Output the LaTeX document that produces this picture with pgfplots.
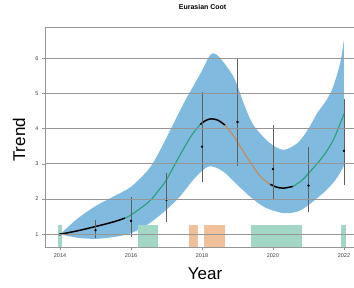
\documentclass[border=0pt]{standalone}
\usepackage{fontspec}
\setmainfont{Liberation Sans}
\usepackage{pgfplots}
\pgfplotsset{compat=1.18}
\usepgfplotslibrary{fillbetween}
\definecolor{bandblue}{RGB}{128,186,222}
\definecolor{trendgreen}{RGB}{40,160,120}
\definecolor{trendorange}{RGB}{205,135,80}
\definecolor{rectgreen}{RGB}{162,215,198}
\definecolor{rectorange}{RGB}{240,192,154}
\definecolor{gridgray}{RGB}{150,150,150}
\definecolor{errgray}{RGB}{95,95,95}
\begin{document}
\begin{tikzpicture}
\begin{axis}[
  at={(0pt,0pt)}, anchor=south west,
  scale only axis, width=309pt, height=220pt,
  xmin=2013.577, xmax=2022.282, ymin=0.63, ymax=6.88,
  axis x line=box, axis y line=left,
  axis line style={gridgray, line width=0.8pt, -},
  axis on top,
  xtick={2014,2016,2018,2020,2022}, ytick={1,2,3,4,5,6},
  xtick pos=left, ytick pos=left,
  tick align=outside, major tick length=3pt,
  tick style={gridgray, line width=0.7pt},
  ymajorgrids, grid style={gridgray, line width=0.8pt},
  tick label style={font=\fontsize{5.5}{6}\selectfont, text=black!75},
  /pgf/number format/assume math mode=true,
  /pgf/number format/1000 sep={},
  title={\textbf{Eurasian Coot}},
  title style={font=\fontsize{7}{8}\selectfont, at={(axis description cs:0.51,1.0536)}, anchor=base},
  xlabel={Year},
  xlabel style={font=\fontsize{17}{18}\selectfont, at={(axis description cs:0.518,-0.1486)}, anchor=base},
  ylabel={Trend},
  ylabel style={font=\fontsize{17}{18}\selectfont, at={(axis description cs:-0.0647,0.488)}, anchor=base},
]
% significance rectangles
\addplot[fill=rectgreen, draw=none] coordinates {(2013.95,1.27) (2014.06,1.27)} \closedcycle;
\addplot[fill=rectgreen, draw=none] coordinates {(2016.2,1.27) (2016.75,1.27)} \closedcycle;
\addplot[fill=rectorange, draw=none] coordinates {(2017.63,1.27) (2017.9,1.27)} \closedcycle;
\addplot[fill=rectorange, draw=none] coordinates {(2018.06,1.27) (2018.66,1.27)} \closedcycle;
\addplot[fill=rectgreen, draw=none] coordinates {(2019.38,1.27) (2020.82,1.27)} \closedcycle;
\addplot[fill=rectgreen, draw=none] coordinates {(2021.92,1.27) (2022.05,1.27)} \closedcycle;
% confidence band
\addplot[name path=up, draw=none, smooth] coordinates {
 (2014,1.0) (2014.5,1.45) (2015,1.8) (2015.5,2.07) (2016,2.35) (2016.5,2.85) (2016.8,3.35)
 (2017.2,4.15) (2017.5,4.75) (2017.75,5.2) (2018,5.65) (2018.2,6.05) (2018.32,6.14) (2018.5,6.02)
 (2018.9,5.45) (2019.2,4.65) (2019.45,4.1) (2019.9,3.6) (2020.3,3.4) (2020.7,3.6) (2021,4.0)
 (2021.25,4.45) (2021.5,4.8) (2021.7,5.2) (2021.9,5.9) (2022,6.55)};
\addplot[name path=lo, draw=none, smooth] coordinates {
 (2014,1.0) (2014.5,0.9) (2015,0.87) (2015.5,0.92) (2016,1.03) (2016.5,1.3) (2017,1.7)
 (2017.4,2.1) (2017.8,2.6) (2018.2,2.93) (2018.6,2.78) (2019,2.4) (2019.4,2.03) (2019.8,1.75)
 (2020.3,1.6) (2020.7,1.65) (2021,1.83) (2021.5,2.25) (2021.8,2.6) (2022,2.95)};
\addplot[fill=bandblue, draw=none] fill between[of=up and lo];
% trend segments
\addplot[black, line width=1.5pt, smooth] coordinates {(2014,1.0) (2014.5,1.1) (2015,1.22) (2015.5,1.35) (2015.83,1.46)};
\addplot[trendgreen, line width=1.1pt, smooth] coordinates {(2015.83,1.46) (2016,1.55) (2016.5,1.92) (2016.82,2.3) (2017,2.55) (2017.38,3.25) (2017.7,3.8) (2017.95,4.12)};
\addplot[black, line width=1.5pt, smooth] coordinates {(2017.95,4.12) (2018.1,4.23) (2018.26,4.28) (2018.45,4.24) (2018.65,4.1)};
\addplot[trendorange, line width=1.1pt, smooth] coordinates {(2018.65,4.1) (2018.85,3.85) (2019,3.62) (2019.32,3.11) (2019.63,2.66) (2019.92,2.42)};
\addplot[black, line width=1.5pt, smooth] coordinates {(2019.92,2.42) (2020.1,2.34) (2020.3,2.31) (2020.56,2.36)};
\addplot[trendgreen, line width=1.1pt, smooth] coordinates {(2020.56,2.36) (2020.8,2.52) (2021,2.73) (2021.4,3.2) (2021.7,3.68) (2022,4.42)};
% observed indices with error bars
\addplot[only marks, mark=*, mark size=1pt, black,
  error bars/.cd, y dir=both, y explicit, error mark=none,
  error bar style={errgray, line width=0.7pt}]
  coordinates {
  (2014,1.0) +- (0,0)
  (2015,1.12) += (0,0.29) -= (0,0.23)
  (2016,1.38) += (0,0.69) -= (0,0.45)
  (2017,1.98) += (0,0.75) -= (0,0.62)
  (2018,3.49) += (0,1.56) -= (0,1.0)
  (2019,4.19) += (0,1.83) -= (0,1.25)
  (2020,2.85) += (0,1.25) -= (0,0.88)
  (2021,2.38) += (0,1.1) -= (0,0.74)
  (2022,3.37) += (0,1.48) -= (0,0.97)
  };
\end{axis}
\pgfresetboundingbox
\path[use as bounding box] (-45pt,-39.7pt) rectangle (309pt,247.3pt);
\end{tikzpicture}
\end{document}
